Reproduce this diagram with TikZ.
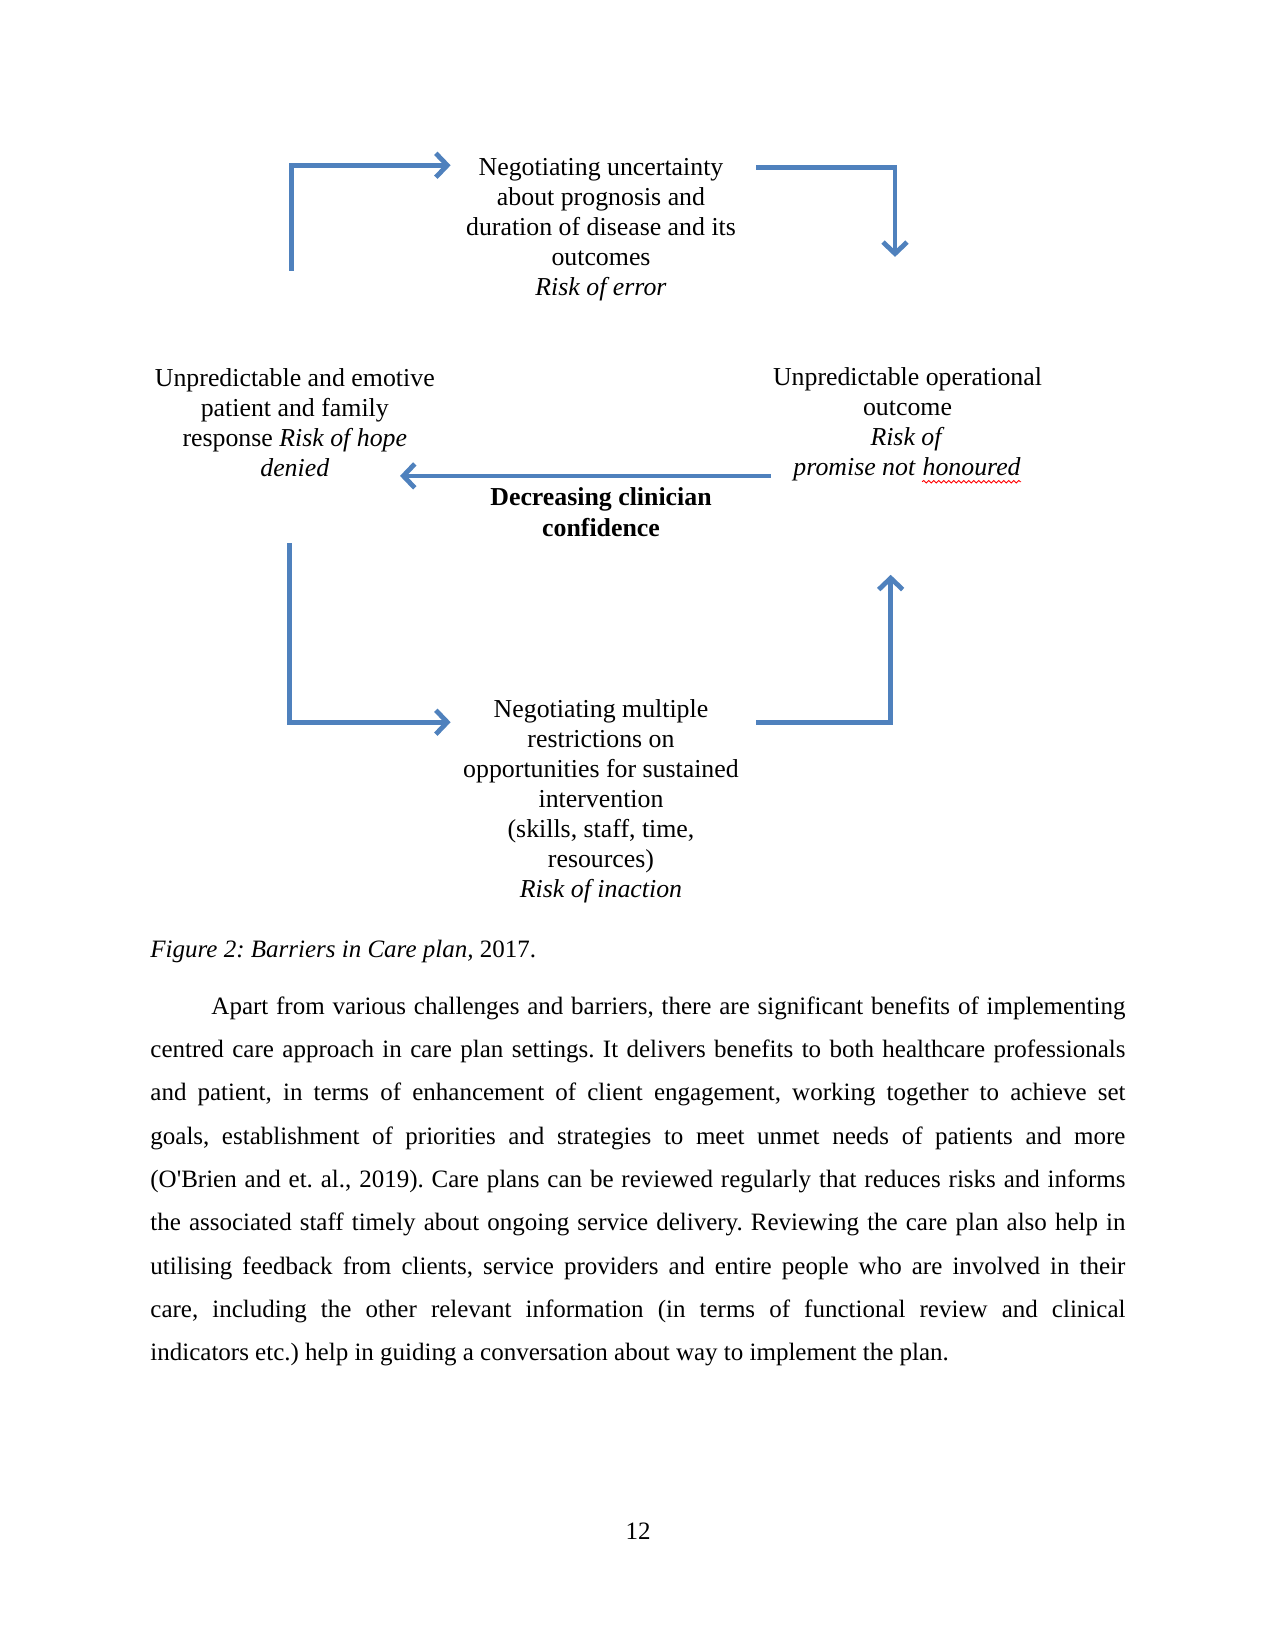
\documentclass[tikz,border=0pt]{standalone}
\usepackage{fontspec}
\setmainfont{Liberation Serif}
\usetikzlibrary{arrows.meta,decorations.pathmorphing}

\definecolor{flowblue}{RGB}{79,129,189}

% red spell-check wave under a word
\newcommand{\spellmark}[1]{\tikz[baseline=(spell.base)]{%
    \node[inner sep=0pt] (spell) {#1};
    \draw[red, line width=0.45pt, decorate, decoration={snake, amplitude=0.6pt, segment length=2.4pt}]
      ([yshift=-3pt]spell.base west) -- ([yshift=-3pt]spell.base east);}}

\begin{document}
\begin{tikzpicture}[x=0.48pt, y=-0.48pt,
    boxtext/.style={align=center, font=\fontsize{12.4}{14.4}\selectfont},
    headtext/.style={boxtext, font=\fontsize{12.4}{14.6}\selectfont\bfseries},
    flowarrow/.style={draw=flowblue, line width=2.3pt, -{Straight Barb[length=5.5pt, width=11.5pt]}},
    bodytext/.style={font=\fontsize{12}{20.8}\selectfont\frenchspacing, inner sep=0pt}]
  \useasboundingbox (0,0) rectangle (1275,1651);

  % the four stages round the loop (pixel coordinates, y down)
  \node[boxtext] (uncert) at (601,230) {Negotiating uncertainty\\ about prognosis and\\
    duration of disease and its\\ outcomes\\ \textit{Risk of error}};
  \node[boxtext] (resp) at (294.8,422.5) {Unpredictable and emotive\\ patient and family\\
    response \textit{Risk of hope}\\ \textit{denied}};
  \node[boxtext] (oper) at (907.5,425.5) {Unpredictable operational\\ outcome\\
    \textit{Risk of}\\ \textit{promise not \spellmark{\itshape honoured}}};
  \node[boxtext] (restr) at (601,801.5) {Negotiating multiple\\ restrictions on\\
    opportunities for sustained\\ intervention\\ (skills, staff, time,\\ resources)\\
    \textit{Risk of inaction}};
  \node[headtext] (conf) at (601,512) {Decreasing clinician\\ confidence};

  % the arrows of the loop
  \draw[flowarrow] ([shift={(-3.2,-151.9)}]resp.center) |- ([shift={(-150.4,-64.7)}]uncert.center);
  \draw[flowarrow] ([shift={(155,-62.6)}]uncert.center) -| ([shift={(-12.5,-168.6)}]oper.center);
  \draw[flowarrow] ([shift={(-136.9,50.4)}]oper.center) -- ([shift={(105.2,53.4)}]resp.center);
  \draw[flowarrow] ([shift={(-5.3,120.7)}]resp.center) |- ([shift={(-150.4,-79.3)}]restr.center);
  \draw[flowarrow] ([shift={(155,-79.3)}]restr.center) -| ([shift={(-16.8,149.3)}]oper.center);

  % caption, text and page number
  \node[bodytext, anchor=base west] (caption) at (150,957) {\textit{Figure 2: Barriers in Care plan,} 2017.};
  \node[bodytext, text width=468pt, align=justify, anchor=north west] (para) at (150,996) {%
    \noindent\hspace*{29.3pt}Apart from various challenges and barriers, there are significant benefits of implementing\linebreak
    centred care approach in care plan settings. It delivers benefits to both healthcare professionals\linebreak
    and patient, in terms of enhancement of client engagement, working together to achieve set\linebreak
    goals, establishment of priorities and strategies to meet unmet needs of patients and more\linebreak
    (O\textquotesingle Brien and et. al., 2019). Care plans can be reviewed regularly that reduces risks and informs\linebreak
    the associated staff timely about ongoing service delivery. Reviewing the care plan also help in\linebreak
    utilising feedback from clients, service providers and entire people who are involved in their\linebreak
    care, including the other relevant information (in terms of functional review and clinical\linebreak
    indicators etc.) help in guiding a conversation about way to implement the plan.};
  \node[bodytext, anchor=base] (pagenum) at (638,1539) {12};
\end{tikzpicture}
\end{document}
